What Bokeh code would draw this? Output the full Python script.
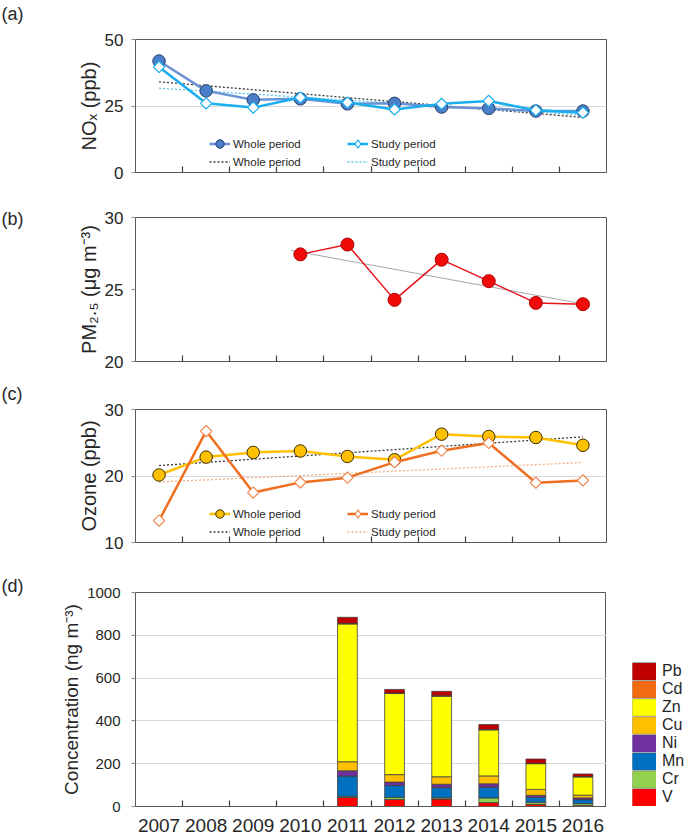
import math
from bokeh.plotting import figure
from bokeh.layouts import column, row
from bokeh.models import FixedTicker, Legend, LegendItem, Title, Range1d, ColumnDataSource
from bokeh.embed import file_html
from bokeh.resources import INLINE

# ---------------- data ----------------
years = [2007, 2008, 2009, 2010, 2011, 2012, 2013, 2014, 2015, 2016]
year_labels = ["2007", "2008", "2009", "2010", "2011", "2012", "2013", "2014", "2015", "2016"]

# (a) NOx (ppb)
nox_whole = [41.9, 30.7, 27.3, 27.7, 25.8, 26.0, 24.6, 24.1, 23.1, 23.1]
nox_study = [39.7, 26.0, 24.4, 28.2, 26.3, 23.7, 25.8, 26.9, 23.4, 22.5]
trend_years = [2007, 2016]
nox_trend_whole = [34.1, 20.7]
nox_trend_study = [31.7, 21.6]

# (b) PM2.5 (ug m-3)
pm_years = [2010, 2011, 2012, 2013, 2014, 2015, 2016]
pm25 = [27.44, 28.12, 24.28, 27.07, 25.58, 24.07, 23.98]
pm_trend_years = [2009.8, 2016]
pm_trend = [27.72, 24.0]

# (c) Ozone (ppb)
o3_whole = [20.15, 22.84, 23.55, 23.76, 22.94, 22.44, 26.29, 25.94, 25.79, 24.62]
o3_study = [13.30, 26.75, 17.51, 19.04, 19.75, 22.08, 23.81, 24.97, 18.98, 19.34]
o3_trend_whole = [21.57, 25.89]
o3_trend_study = [19.09, 22.03]

# (d) metals (ng m-3)
metal_years = [2011, 2012, 2013, 2014, 2015, 2016]
metals = ["V", "Cr", "Mn", "Ni", "Cu", "Zn", "Cd", "Pb"]
V = [42, 33, 35, 18, 10, 6]
Cr = [6, 10, 6, 22, 10, 8]
Mn = [94, 55, 47, 50, 23, 18]
Ni = [25, 16, 16, 16, 9, 8]
Cu = [42, 35, 35, 37, 28, 13]
Zn = [644, 379, 376, 215, 120, 85]
Cd = [3, 2, 3, 2, 2, 2]
Pb = [28, 17, 20, 23, 20, 12]
metal_colors = ["#FF0000", "#92D050", "#0070C0", "#7030A0", "#FFC000", "#FFFF00", "#F26B10", "#C00000"]

# ---------------- style ----------------
FONT = "Liberation Sans"
TXT = "#262626"
FRAME = "#595959"
TAGW = 30
LEGW = 79
W = 685 - TAGW
LEFT = 135 - TAGW
RIGHT = 79


def make_fig(width, height, top, bottom, right, y0, y1, yticks, gridticks, ytitle,
             tick_size="17px", tick_standoff=8, title_size="20px", show_years=False):
    p = figure(width=width, height=height, output_backend="svg", toolbar_location=None,
               x_range=Range1d(2006.5, 2016.5), y_range=Range1d(y0, y1),
               min_border_left=LEFT, min_border_right=right,
               min_border_top=top, min_border_bottom=bottom)
    p.background_fill_color = "white"
    p.border_fill_color = "white"
    p.outline_line_color = FRAME
    p.outline_line_width = 1
    p.xgrid.grid_line_color = None

    ax = p.xaxis[0]
    ax.ticker = FixedTicker(ticks=years, minor_ticks=[y + 0.5 for y in years[:-1]])
    ax.axis_line_color = FRAME
    ax.major_tick_in = 0
    ax.major_tick_out = 0
    ax.minor_tick_in = 6
    ax.minor_tick_out = 0
    ax.minor_tick_line_color = "#404040"
    ax.minor_tick_line_width = 1.2
    if show_years:
        ax.major_label_overrides = {y: l for y, l in zip(years, year_labels)}
        ax.major_label_text_font = FONT
        ax.major_label_text_font_size = "19px"
        ax.major_label_text_color = TXT
        ax.major_label_standoff = 12
    else:
        ax.major_label_overrides = {y: "" for y in years}
        ax.major_label_text_font_size = "1px"
        ax.major_label_standoff = 0

    ay = p.yaxis[0]
    ay.ticker = FixedTicker(ticks=yticks)
    ay.axis_line_color = FRAME
    ay.major_tick_in = 0
    ay.major_tick_out = 4
    ay.major_tick_line_color = "#8c8c8c"
    ay.minor_tick_line_color = None
    ay.major_label_text_font = FONT
    ay.major_label_text_font_size = tick_size
    ay.major_label_text_color = TXT
    ay.major_label_standoff = tick_standoff
    ay.axis_label = ytitle
    ay.axis_label_text_font = FONT
    ay.axis_label_text_font_size = title_size
    ay.axis_label_text_font_style = "normal"
    ay.axis_label_text_color = TXT
    ay.axis_label_standoff = 2

    if gridticks:
        p.ygrid[0].ticker = FixedTicker(ticks=gridticks)
        p.ygrid[0].grid_line_color = "#d9d9d9"
        p.ygrid[0].grid_line_width = 1
    else:
        p.ygrid[0].grid_line_color = None
    return p


def blank_fig(width, height, top, bottom):
    t = figure(width=width, height=height, output_backend="svg", toolbar_location=None,
               x_axis_type=None, y_axis_type=None, min_border_left=0, min_border_right=0,
               min_border_top=top, min_border_bottom=bottom)
    t.outline_line_color = None
    t.background_fill_color = "white"
    t.border_fill_color = "white"
    return t


def tag_fig(height, top, bottom, text, standoff, spacer=None):
    t = blank_fig(TAGW, height, top, bottom)
    if spacer is not None:
        t.add_layout(Title(text=" ", text_font_size="1px", standoff=spacer), "above")
    t.add_layout(Title(text=text, align="left", offset=1, standoff=standoff,
                       vertical_align="bottom", text_font=FONT, text_font_size="18px",
                       text_font_style="normal", text_color=TXT), "above")
    return t


def add_leg(p, label, renderers, x, y):
    lg = Legend(items=[LegendItem(label=label, renderers=renderers)], location=(x, y),
                orientation="vertical", padding=0, margin=0, spacing=0,
                glyph_width=21, glyph_height=21, label_height=21, label_standoff=3,
                label_text_font=FONT, label_text_font_size="11.5px", label_text_color=TXT,
                border_line_color=None, background_fill_alpha=0, inactive_fill_alpha=0)
    p.add_layout(lg)


def line_panel(p, whole, study, tw, ts, c_whole_line, c_whole_fill, c_whole_edge,
               c_study_line, c_study_edge, c_trend_study):
    r_tw = p.line(trend_years, tw, line_color="#3a3a3a", line_width=1.3, line_dash="2 2")
    r_ts = p.line(trend_years, ts, line_color=c_trend_study, line_width=1.3, line_dash="2 2")
    r_wl = p.line(years, whole, line_color=c_whole_line, line_width=2.5)
    r_ws = p.scatter(years, whole, marker="circle", size=12.5, fill_color=c_whole_fill,
                     line_color=c_whole_edge, line_width=1)
    r_sl = p.line(years, study, line_color=c_study_line, line_width=2.5)
    p.scatter(years, study, marker="square", angle=math.pi / 4, size=8,
              fill_color="white", line_color=c_study_edge, line_width=1.2)
    # hidden diamond proxy so the legend swatch shows a diamond
    r_sd = p.scatter(years, study, marker="diamond", size=12, fill_color="white",
                     line_color=c_study_edge, line_width=1.2, visible=False)
    add_leg(p, "Whole period", [r_wl, r_ws], 74, 18)
    add_leg(p, "Study period", [r_sl, r_sd], 212, 18)
    add_leg(p, "Whole period", [r_tw], 74, 0)
    add_leg(p, "Study period", [r_ts], 212, 0)


# (a)
ta = tag_fig(190, 39, 18, "(a)", 0, spacer=13)
pa = make_fig(W, 190, 39, 18, RIGHT, 0, 50, [0, 25, 50], [25], "NOₓ (ppb)")
line_panel(pa, nox_whole, nox_study, nox_trend_whole, nox_trend_study,
           "#6A92D4", "#4A7EC6", "#24406E", "#1AAEEF", "#1AAEEF", "#5CC6EE")

# (b)
tb = tag_fig(185, 27, 14, "(b)", -22)
pb = make_fig(W, 185, 27, 14, RIGHT, 20, 30, [20, 25, 30], None, "PM₂.₅ (μg m⁻³)")
pb.line(pm_trend_years, pm_trend, line_color="#a6a6a6", line_width=1)
pb.line(pm_years, pm25, line_color="#E8141B", line_width=1.5)
pb.scatter(pm_years, pm25, marker="circle", size=13, fill_color="#F00A0A",
           line_color="#B00000", line_width=1)

# (c)
tc = tag_fig(185, 34, 18, "(c)", 11)
pc = make_fig(W, 185, 34, 18, RIGHT, 10, 30, [10, 20, 30], [20], "Ozone (ppb)")
line_panel(pc, o3_whole, o3_study, o3_trend_whole, o3_trend_study,
           "#FFC000", "#FFC000", "#3a2c00", "#EE6E22", "#F08850", "#F4B183")

# (d)
td = tag_fig(280, 32, 34, "(d)", -6)
pd_ = make_fig(W - LEGW, 280, 32, 34, 0, 0, 1000, [0, 200, 400, 600, 800, 1000],
               [200, 400, 600, 800], "Concentration (ng m⁻³)", tick_size="15px",
               tick_standoff=11, title_size="19px", show_years=True)
src = ColumnDataSource(dict(year=metal_years, V=V, Cr=Cr, Mn=Mn, Ni=Ni, Cu=Cu, Zn=Zn, Cd=Cd, Pb=Pb))
pd_.vbar_stack(metals, x="year", width=0.42, color=metal_colors, source=src,
               line_color="#404040", line_width=0.8)

# legend panel for (d): hidden thick-stroke proxies give solid swatches with dark edges
lg_fig = blank_fig(LEGW, 280, 32, 34)
items = []
for m, c in zip(metals, metal_colors):
    edge = lg_fig.line(x="year", y=m, source=src, line_color="#505050", line_width=18,
                       visible=False)
    body = lg_fig.line(x="year", y=m, source=src, line_color=c, line_width=16.8,
                       visible=False)
    items.append(LegendItem(label=m, renderers=[edge, body]))
leg_d = Legend(items=items[::-1], location=(26, 0), orientation="vertical", padding=0,
               margin=0, spacing=0, glyph_width=24, glyph_height=18, label_height=18,
               label_standoff=6, label_text_font=FONT, label_text_font_size="16px",
               label_text_color=TXT, border_line_color=None, background_fill_alpha=0,
               inactive_fill_alpha=0)
lg_fig.add_layout(leg_d)

layout = column(row(ta, pa, spacing=0), row(tb, pb, spacing=0),
                row(tc, pc, spacing=0), row(td, pd_, lg_fig, spacing=0), spacing=0)
open("out.html", "w").write(file_html(layout, INLINE))
